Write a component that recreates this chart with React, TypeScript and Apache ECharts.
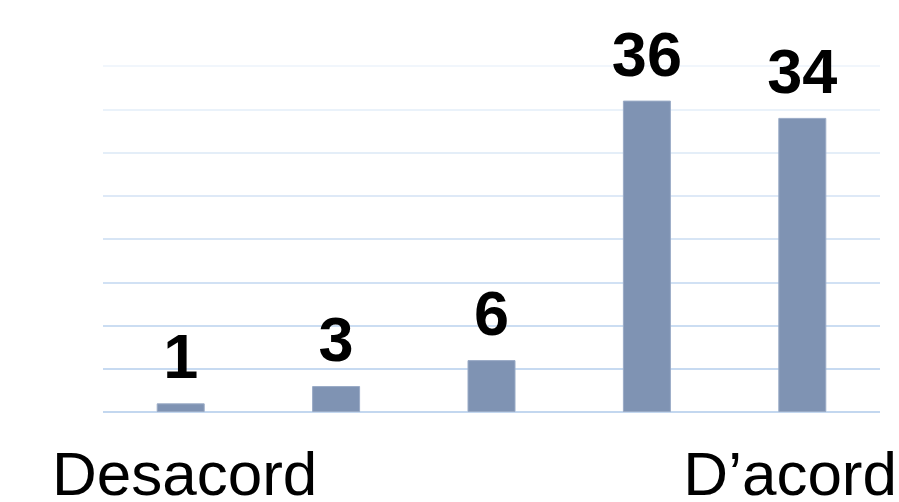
import React, { useEffect, useRef } from "react";
import * as echarts from "echarts";

const categories = ["1", "2", "3", "4", "5"];
const values = [1, 3, 6, 36, 34];
const endLabels = ["Desacord", "D’acord"];
const yMin = 0;
const yMax = 40;
const yInterval = 5;
const gridColors = [
  "#c3d7ef",
  "#c7daf1",
  "#cbddf2",
  "#d1e1f4",
  "#d7e5f5",
  "#dee9f7",
  "#e4eef8",
  "#eaf2fa",
  "#f1f6fc",
];

export default function App() {
  const ref = useRef<HTMLDivElement>(null);
  useEffect(() => {
    if (!ref.current) return;
    const chart = echarts.init(ref.current, undefined, { renderer: "svg" });
    const font = "'Liberation Sans', Arial, sans-serif";
    chart.setOption({
      animation: false,
      backgroundColor: "#ffffff",
      grid: { left: 103, right: 19, top: 66, bottom: 90 },
      xAxis: {
        type: "category",
        data: categories,
        axisLine: { show: false },
        axisTick: { show: false },
        axisLabel: { show: false },
      },
      yAxis: {
        type: "value",
        min: yMin,
        max: yMax,
        interval: yInterval,
        axisLine: { show: false },
        axisTick: { show: false },
        axisLabel: { show: false },
        splitLine: { show: true, lineStyle: { color: gridColors, width: 2 } },
      },
      series: [
        {
          type: "bar",
          data: values,
          barWidth: 48,
          itemStyle: { color: "#7f93b3", borderColor: "#9aabc6", borderWidth: 1 },
          label: {
            show: true,
            position: "top",
            distance: 17,
            color: "#000000",
            fontFamily: font,
            fontWeight: "bold",
            fontSize: 63,
            lineHeight: 60,
          },
        },
      ],
      graphic: [
        {
          type: "text",
          left: 52,
          top: 442,
          style: { text: endLabels[0], fontFamily: font, fontSize: 62, lineHeight: 56, fill: "#000000" },
        },
        {
          type: "text",
          right: 2,
          top: 442,
          style: { text: endLabels[1], fontFamily: font, fontSize: 62, lineHeight: 56, fill: "#000000" },
        },
      ],
    });
    return () => chart.dispose();
  }, []);
  return <div ref={ref} style={{ width: 899, height: 502, position: "absolute", left: 0, top: 0 }} />;
}
